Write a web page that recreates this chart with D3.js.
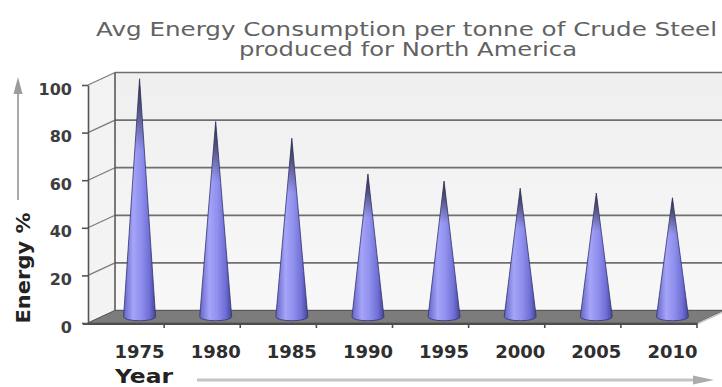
<!DOCTYPE html>
<html>
<head>
<meta charset="utf-8">
<script src="https://cdn.jsdelivr.net/npm/d3@7"></script>
<style>
  html, body { margin: 0; padding: 0; background: #ffffff; }
  svg { display: block; }
</style>
</head>
<body>
<script>
// Chart data
const titleLines = ["Avg Energy Consumption per tonne of Crude Steel", "produced for North America"];
const years = ["1975", "1980", "1985", "1990", "1995", "2000", "2005", "2010"];
const energy = [100, 82, 75, 60, 57, 54, 52, 50];
const yTicks = [0, 20, 40, 60, 80, 100];
const yTitle = "Energy %";
const xTitle = "Year";

const W = 722, H = 387;
const depth = { dx: 27, dy: -12.5 };          // 3D depth offset of the back wall
const half = { dx: depth.dx / 2, dy: depth.dy / 2 };

const svg = d3.select("body").append("svg")
  .attr("width", W).attr("height", H)
  .style("font-family", "'DejaVu Sans', Verdana, sans-serif");

const x = d3.scaleBand().domain(years).range([88, 697]);
const y = d3.scaleLinear().domain([0, 100]).range([323, 85]);

const defs = svg.append("defs");

// back wall shading
const wallGrad = defs.append("linearGradient").attr("id", "wallGrad")
  .attr("x1", 0).attr("y1", 0).attr("x2", 0).attr("y2", 1);
wallGrad.append("stop").attr("offset", "0%").attr("stop-color", "#efefef");
wallGrad.append("stop").attr("offset", "100%").attr("stop-color", "#f8f8f8");

// cone body shading (left-to-right lighting)
const coneGrad = defs.append("linearGradient").attr("id", "coneGrad")
  .attr("x1", 0).attr("y1", 0).attr("x2", 1).attr("y2", 0);
[["0%", "#6464c8"], ["30%", "#a4a4f8"], ["55%", "#9090ee"], ["80%", "#7070d6"], ["100%", "#45459a"]]
  .forEach(([o, c]) => coneGrad.append("stop").attr("offset", o).attr("stop-color", c));

// darkened cone tip
const tipGrad = defs.append("linearGradient").attr("id", "tipGrad")
  .attr("x1", 0).attr("y1", 0).attr("x2", 0).attr("y2", 1);
tipGrad.append("stop").attr("offset", "0%").attr("stop-color", "#2e2e36").attr("stop-opacity", 0.95);
tipGrad.append("stop").attr("offset", "12%").attr("stop-color", "#34344a").attr("stop-opacity", 0.7);
tipGrad.append("stop").attr("offset", "30%").attr("stop-color", "#3a3a60").attr("stop-opacity", 0);

const x0 = x.range()[0], x1 = x.range()[1];
const yb0 = y(0), yb100 = y(100);

// back wall
svg.append("polygon")
  .attr("points", [[x0 + depth.dx, yb0 + depth.dy], [x0 + depth.dx, yb100 + depth.dy],
                   [x1 + depth.dx, yb100 + depth.dy], [x1 + depth.dx, yb0 + depth.dy]].join(" "))
  .attr("fill", "url(#wallGrad)");

// left side wall
svg.append("polygon")
  .attr("points", [[x0, yb0], [x0, yb100], [x0 + depth.dx, yb100 + depth.dy], [x0 + depth.dx, yb0 + depth.dy]].join(" "))
  .attr("fill", "#f3f3f3");

// gridlines on back wall and side wall
const grid = svg.append("g");
grid.selectAll("line.back").data(yTicks).join("line")
  .attr("class", "back")
  .attr("x1", x0 + depth.dx).attr("x2", x1 + depth.dx)
  .attr("y1", d => y(d) + depth.dy).attr("y2", d => y(d) + depth.dy)
  .attr("stroke", "#6f6f6f").attr("stroke-width", 1.7);
grid.selectAll("line.side").data(yTicks).join("line")
  .attr("class", "side")
  .attr("x1", x0).attr("x2", x0 + depth.dx)
  .attr("y1", d => y(d)).attr("y2", d => y(d) + depth.dy)
  .attr("stroke", "#7a7a7a").attr("stroke-width", 1.2);
// back wall left edge
grid.append("line")
  .attr("x1", x0 + depth.dx).attr("x2", x0 + depth.dx)
  .attr("y1", yb0 + depth.dy).attr("y2", yb100 + depth.dy)
  .attr("stroke", "#5a5a5a").attr("stroke-width", 1.6);

// floor
svg.append("polygon")
  .attr("points", [[x0, yb0], [x1, yb0], [x1 + depth.dx, yb0 + depth.dy], [x0 + depth.dx, yb0 + depth.dy]].join(" "))
  .attr("fill", "#7c7c7c").attr("stroke", "#5a5a5a").attr("stroke-width", 1);
svg.append("line")
  .attr("x1", x1).attr("y1", yb0 + 1).attr("x2", x1 + depth.dx).attr("y2", yb0 + depth.dy + 1)
  .attr("stroke", "#c8c8c8").attr("stroke-width", 1.5);
svg.append("line")
  .attr("x1", x0 - 5).attr("y1", yb0 + 1).attr("x2", x1).attr("y2", yb0 + 1)
  .attr("stroke", "#4d4d4d").attr("stroke-width", 1.8);

// category boundary ticks along the floor front edge
svg.append("g").selectAll("line").data(years).join("line")
  .attr("x1", d => x(d) + x.step()).attr("x2", d => x(d) + x.step())
  .attr("y1", yb0).attr("y2", yb0 + 5)
  .attr("stroke", "#4d4d4d").attr("stroke-width", 1.6);

// cones, centred halfway into the depth
const coneR = 16, coneRy = 4;
const cones = svg.append("g");
const data = years.map((yr, i) => ({ year: yr, value: energy[i] }));
const conePath = d => {
  const cx = x(d.year) + x.bandwidth() / 2 + half.dx;
  const base = y(0) + half.dy;
  const tip = y(d.value) + half.dy;
  return `M${cx - coneR},${base} L${cx},${tip} L${cx + coneR},${base} A${coneR},${coneRy} 0 0 1 ${cx - coneR},${base} Z`;
};
cones.selectAll("path.body").data(data).join("path")
  .attr("class", "body")
  .attr("d", conePath)
  .attr("fill", "url(#coneGrad)")
  .attr("stroke", "#34346e").attr("stroke-width", 0.8);
cones.selectAll("path.tip").data(data).join("path")
  .attr("class", "tip")
  .attr("d", conePath)
  .attr("fill", "url(#tipGrad)");

// y axis on the front edge
const yAxis = svg.append("g")
  .attr("transform", `translate(${x0},0)`)
  .call(d3.axisLeft(y).tickValues(yTicks).tickSize(6).tickSizeOuter(0).tickPadding(10));
yAxis.select(".domain").attr("stroke", "#555").attr("stroke-width", 1.6);
yAxis.selectAll(".tick line").attr("stroke", "#555").attr("stroke-width", 1.6);
yAxis.selectAll(".tick text")
  .attr("y", 4)
  .style("font-family", "'DejaVu Sans', Verdana, sans-serif")
  .style("font-size", "16px").style("font-weight", "bold")
  .attr("fill", "#3e3e3e");

// x axis labels
const xAxis = svg.append("g")
  .attr("transform", `translate(${half.dx},${yb0})`)
  .call(d3.axisBottom(x).tickSize(0));
xAxis.select(".domain").remove();
xAxis.selectAll(".tick text")
  .attr("y", 35).attr("dy", 0)
  .style("font-family", "'DejaVu Sans', Verdana, sans-serif")
  .style("font-size", "18px").style("font-weight", "bold")
  .attr("fill", "#2e2e2e");

// title
svg.append("g").selectAll("text").data(titleLines).join("text")
  .attr("x", (d, i) => i === 0 ? 406.5 : 408)
  .attr("y", (d, i) => i === 0 ? 36 : 56)
  .attr("text-anchor", "middle")
  .attr("textLength", (d, i) => i === 0 ? 621 : 338)
  .attr("lengthAdjust", "spacingAndGlyphs")
  .style("font-size", "19px")
  .attr("fill", "#626262")
  .text(d => d);

// axis titles
svg.append("text")
  .attr("transform", "translate(30,268) rotate(-90)")
  .attr("text-anchor", "middle")
  .attr("textLength", 111).attr("lengthAdjust", "spacingAndGlyphs")
  .style("font-size", "20px").style("font-weight", "bold")
  .attr("fill", "#222")
  .text(yTitle);
svg.append("text")
  .attr("x", 115).attr("y", 383)
  .attr("textLength", 58).attr("lengthAdjust", "spacingAndGlyphs")
  .style("font-size", "19px").style("font-weight", "bold")
  .attr("fill", "#222")
  .text(xTitle);

// direction arrows
svg.append("line").attr("x1", 18).attr("y1", 200).attr("x2", 18).attr("y2", 92)
  .attr("stroke", "#a8a8a8").attr("stroke-width", 2);
svg.append("polygon").attr("points", "18,77 13.5,94 22.5,94").attr("fill", "#9c9c9c");
svg.append("line").attr("x1", 197).attr("y1", 380).attr("x2", 696).attr("y2", 380)
  .attr("stroke", "#c4c4c4").attr("stroke-width", 3);
svg.append("polygon").attr("points", "714,380 693,375.5 693,384.5").attr("fill", "#acacac");
</script>
</body>
</html>
